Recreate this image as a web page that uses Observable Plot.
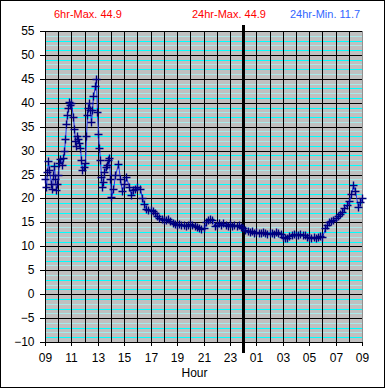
<!DOCTYPE html>
<html><head><meta charset="utf-8">
<script src="https://cdn.jsdelivr.net/npm/d3@7"></script>
<script src="https://cdn.jsdelivr.net/npm/@observablehq/plot@0.6"></script>
<style>
body{margin:0;background:#fff;}
#box{position:absolute;left:0;top:0;width:385px;height:388px;box-sizing:border-box;border:1px solid #000;font-family:"Liberation Sans",Arial,sans-serif;background:#fff;}
.txt{position:absolute;white-space:nowrap;line-height:1;}
#chart{position:absolute;left:0;top:0;}
</style></head><body>
<div id="box"><div id="chart"></div></div>
<script>
// Header statistics
const headerLabels = ["6hr-Max. 44.9", "24hr-Max. 44.9", "24hr-Min. 11.7"];
const headerColors = ["#ff0000", "#ff0000", "#3366ff"];
const xTitle = "Hour";

// Tick labels
const hourLabels = ["09","11","13","15","17","19","21","23","01","03","05","07","09"];
const yTicks = [-10,-5,0,5,10,15,20,25,30,35,40,45,50,55];
const midnightHour = 15; // hours after 09:00

// Temperatures, 09:00-13:55 every 5 minutes
const segA = [
  24.0, 22.5, 25.5, 27.8, 26.0, 23.0, 22.0, 25.0, 26.8, 24.0, 21.8, 23.0,
  25.0, 27.5, 28.2, 27.0, 28.5, 30.0, 32.5, 35.5, 37.5, 39.0, 40.2, 39.5,
  40.0, 37.0, 34.5, 32.0, 31.0, 33.0, 32.5, 31.5, 30.5, 28.0, 26.0, 26.5,
  27.5, 33.0, 37.5, 39.0, 40.0, 38.5, 36.0, 38.5, 41.5, 43.5, 44.9, 38.0,
  33.5, 30.5, 28.0, 24.5, 22.5, 23.5, 25.5, 26.5, 27.0, 28.0, 28.5, 24.0
];
// Temperatures, 14:00-09:00 every 10 minutes
const segB = [
  20.3, 22.0, 25.0, 27.2, 24.0, 21.5,
  23.0, 24.5, 22.5, 20.8, 21.8, 22.0,
  22.3, 22.0, 20.0, 18.8, 17.8, 17.5,
  17.5, 17.3, 17.0, 16.3, 16.0, 15.8,
  15.6, 15.4, 15.7, 15.3, 14.9, 14.7,
  14.5, 14.6, 14.4, 14.5, 14.3, 14.5,
  14.7, 14.5, 14.2, 14.0, 13.8, 13.6,
  13.9, 15.0, 15.6, 15.8, 15.6, 14.2,
  14.5, 14.9, 14.4, 14.8, 14.5, 14.3,
  14.6, 14.3, 14.5, 14.2, 14.4, 14.1,
  13.9, 13.4, 13.3, 13.0, 13.1, 12.8,
  12.9, 12.8, 12.7, 13.0, 12.8, 12.6,
  12.8, 12.7, 12.5, 12.9, 12.8, 12.5,
  12.0, 11.8, 11.7, 12.1, 12.4, 12.5,
  12.3, 12.4, 12.5, 12.3, 12.4, 12.0,
  11.9, 11.8, 12.0, 11.8, 12.0, 12.1,
  12.0, 13.8, 14.5, 15.0, 15.3, 15.6,
  16.0, 16.4, 16.8, 17.2, 18.0, 18.7,
  19.5, 21.0, 22.8, 21.5, 18.3, 19.3,
  20.0
];

const data = [
  ...segA.map((v, i) => ({t: i * 5 / 60, v})),
  ...segB.map((v, i) => ({t: 5 + i * 10 / 60, v}))
];

const xTicks = d3.range(0, 25, 2);
const minorY = d3.range(-10, 56, 1).filter(d => d % 5 !== 0);
const box = document.getElementById("box");

const chart = Plot.plot({
  width: 383,
  height: 386,
  marginLeft: 44,
  marginRight: 22,
  marginTop: 30,
  marginBottom: 45,
  style: {fontFamily: "'Liberation Sans', Arial, sans-serif", fontSize: "12px", color: "#000", background: "transparent", overflow: "visible"},
  x: {domain: [0, 24], round: true},
  y: {domain: [-10, 55], round: true},
  marks: [
    Plot.frame({fill: "#c0c0c0", stroke: "#909090"}),
    Plot.gridY(minorY.filter(d => Math.abs(d) % 2 === 0), {stroke: "#a8eaea", strokeOpacity: 1}),
    Plot.gridY(minorY.filter(d => Math.abs(d) % 2 === 1), {stroke: "#00ffff", strokeOpacity: 1}),
    Plot.gridY(yTicks, {stroke: "#000", strokeOpacity: 1, strokeWidth: 1}),
    Plot.gridX(d3.range(0, 24, 1), {stroke: "#000", strokeOpacity: 1, strokeWidth: 1}),
    Plot.ruleX([midnightHour], {stroke: "#000", strokeWidth: 3, insetTop: -6, insetBottom: -11}),
    Plot.line(data, {x: "t", y: "v", stroke: "#2233ee", strokeWidth: 1}),
    Plot.dot(data, {x: "t", y: "v", symbol: "plus", r: 2.7, stroke: "#000080", strokeWidth: 1.4}),
    Plot.axisY(yTicks, {tickSize: 5, tickPadding: 6, label: null, fontSize: 12}),
    Plot.axisX(xTicks, {tickSize: 4, tickPadding: 7, label: null, fontSize: 12,
      tickFormat: d => hourLabels[xTicks.indexOf(d)]})
  ]
});
document.getElementById("chart").appendChild(chart);

const headerLeft = [53, 191, 289];
headerLabels.forEach((s, i) => {
  const el = document.createElement("div");
  el.className = "txt";
  el.textContent = s;
  el.style.left = headerLeft[i] + "px";
  el.style.top = "8px";
  el.style.fontSize = "11px";
  el.style.color = headerColors[i];
  box.appendChild(el);
});
const xt = document.createElement("div");
xt.className = "txt";
xt.textContent = xTitle;
xt.style.left = "180.5px";
xt.style.top = "366px";
xt.style.fontSize = "12px";
box.appendChild(xt);
</script>
</body></html>
